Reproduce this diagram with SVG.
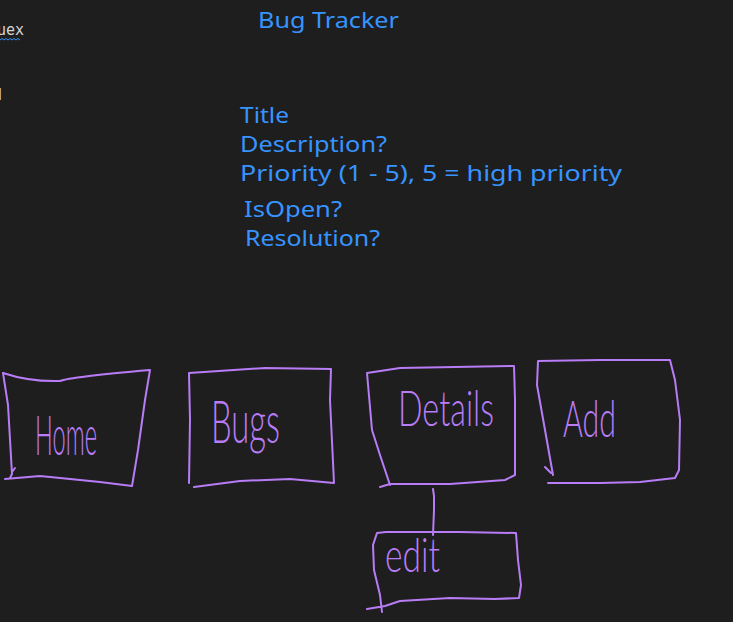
<svg xmlns="http://www.w3.org/2000/svg" width="733" height="622" viewBox="0 0 733 622">
<style>
.bg{fill:#1e1e1e}
.t{font-family:"Noto Sans","Open Sans","DejaVu Sans",sans-serif;font-size:22px;fill:#3794ff}
.ink{fill:none;stroke:#b77cf6;stroke-width:2;stroke-linecap:round;stroke-linejoin:round}
.hw{font-family:"Lato","Open Sans",sans-serif;font-weight:300;fill:#b77cf6}
.ed{font-family:"DejaVu Sans Mono","Liberation Mono",monospace;font-size:15px;fill:#d4d4d4}
</style>
<rect class="bg" width="733" height="622"/>
<text class="ed" x="-3" y="35">uex</text>
<path d="M0,40 l2,-1.5 l2,1.5 l2,-1.5 l2,1.5 l2,-1.5 l2,1.5 l2,-1.5 l2,1.5 l2,-1.5 l2,1.5" fill="none" stroke="#3794ff" stroke-width="1"/>
<text class="ed" x="-7" y="100">d</text>
<text class="t" x="258" y="28" textLength="141" lengthAdjust="spacingAndGlyphs">Bug Tracker</text>
<text class="t" x="240" y="123" textLength="49" lengthAdjust="spacingAndGlyphs">Title</text>
<text class="t" x="240" y="152" textLength="147" lengthAdjust="spacingAndGlyphs">Description?</text>
<text class="t" x="240" y="181" textLength="382" lengthAdjust="spacingAndGlyphs">Priority (1 - 5), 5 = high priority</text>
<text class="t" x="244" y="217" textLength="98" lengthAdjust="spacingAndGlyphs">IsOpen?</text>
<text class="t" x="245" y="246" textLength="135" lengthAdjust="spacingAndGlyphs">Resolution?</text>
<g id="connectors">
<path class="ink" d="M433,489 L434,496 L434,510 L433,535"/>
</g>
<g id="home">
<path class="ink" d="M3,373 Q30,382 60,381 Q70,377 150,370 L145,400 L138,450 L132,486 L100,482 L40,476 L5,479"/>
<path class="ink" d="M3,373 L8,405 L12,474 L10,478 M12,472 L15,468"/>
<text class="hw" x="35" y="455" font-size="56" textLength="62" lengthAdjust="spacingAndGlyphs">Home</text>
</g>
<g id="bugs">
<path class="ink" d="M189,373 L265,368 L331,369 L330,400 L334,483 L290,479 L240,481 L194,487 M189,373 L190,420 L189,483"/>
<text class="hw" x="211" y="443" font-size="60" textLength="69" lengthAdjust="spacingAndGlyphs">Bugs</text>
</g>
<g id="details">
<path class="ink" d="M367,373 L400,368 L514,366 L515,400 L515,475 L505,480 L450,484 L390,484 L380,487 M367,373 L372,430 L380,455 L390,485"/>
<text class="hw" x="398" y="426" font-size="50" textLength="96" lengthAdjust="spacingAndGlyphs">Details</text>
</g>
<g id="add">
<path class="ink" d="M538,361 L600,360 L670,360 L675,380 L680,420 L679,470 L675,478 L640,482 L600,483 L548,483 M538,361 L537,385 L545,430 L553,475 M545,467 L551,473"/>
<text class="hw" x="563" y="437" font-size="52" textLength="53" lengthAdjust="spacingAndGlyphs">Add</text>
</g>
<g id="edit">
<path class="ink" d="M377,533 L386,532 L460,532 L516,533 L518,560 L521,585 L519,598 L495,599 L450,598 L400,601 L385,606 L367,609 M377,533 L373,545 L374,570 L380,595 L382,612"/>
<text class="hw" x="385" y="572" font-size="48" textLength="55" lengthAdjust="spacingAndGlyphs">edit</text>
</g>
</svg>
